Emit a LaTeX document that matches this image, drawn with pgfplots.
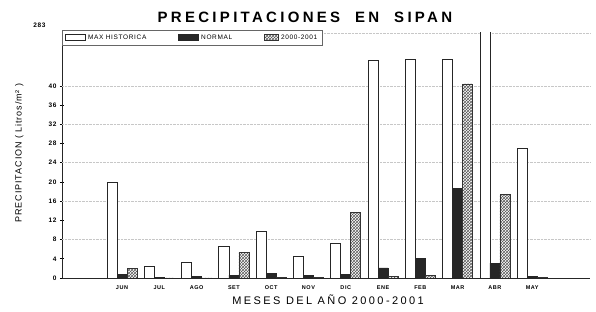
\documentclass[border=0pt]{standalone}
\usepackage{fontspec}
\setmainfont{Liberation Sans}
\newfontfamily\spacedfont[LetterSpace=22]{Liberation Sans}
\newfontfamily\widefont[LetterSpace=10]{Liberation Sans}
\usepackage{pgfplots}
\pgfplotsset{compat=1.18}
\usetikzlibrary{patterns}
\pgfplotsset{
  boxlegend/.style={legend image code/.code={\draw[##1] (0pt,-2.5pt) rectangle (20pt,3.5pt);}},
  shortlegend/.style={legend image code/.code={\draw[##1] (0pt,-2.5pt) rectangle (14pt,3.5pt);}},
}
\begin{document}
\begin{tikzpicture}
\path[use as bounding box] (-62pt,-34pt) rectangle (534pt,278pt);
\begin{axis}[
  at={(0,0)}, anchor=south west,
  scale only axis, width=528pt, height=245pt,
  xmin=-1.61, xmax=12.55, ymin=0, ymax=51,
  axis x line*=bottom, axis y line*=left,
  axis line style={-, line width=0.9pt, black!85},
  xtick={0,...,11},
  xticklabels={JUN,JUL,AGO,SET,OCT,NOV,DIC,ENE,FEB,MAR,ABR,MAY},
  x tick label style={font=\widefont\bfseries\fontsize{5.5}{6}\selectfont, yshift=-2pt},
  xtick style={draw=none},
  ytick={0,4,...,40},
  y tick label style={font=\widefont\bfseries\fontsize{6.5}{7}\selectfont},
  /pgf/number format/assume math mode=true,
  ytick style={line width=0.6pt, black},
  tick align=center, major tick length=4pt,
  extra y ticks={8,16,24,32,40,51},
  extra y tick labels={},
  extra y tick style={grid=major, major grid style={densely dotted, black!22, line width=0.5pt}, major tick length=0pt},
  extra x ticks={-0.5,0.5,...,11.5},
  extra x tick labels={},
  extra x tick style={tick align=outside, major tick length=3pt, tick style={draw=black!70, line width=0.6pt}},
  title={\spacedfont\bfseries\fontsize{15}{17}\selectfont PRECIPITACIONES\ \ EN\ \ SIPAN},
  title style={at={(axis description cs:0.46,1.04)}, anchor=center},
  xlabel={\spacedfont\fontsize{11}{12}\selectfont MESES\ DEL\ AÑO\ 2000-2001},
  xlabel style={at={(axis description cs:0.504,-0.09)}, anchor=center},
  ylabel={\widefont\fontsize{9}{10}\selectfont PRECIPITACION ( Litros/m² )},
  ylabel style={at={(axis description cs:-0.081,0.51)}, anchor=center, rotate=0},
  legend columns=3,
  legend style={at={(axis description cs:0,1.012)}, anchor=north west,
    draw=black!60, line width=0.5pt, font=\widefont\fontsize{6.5}{7.5}\selectfont,
    inner xsep=3pt, inner ysep=2.5pt,
    /tikz/every even column/.append style={column sep=30pt}},
]
\addplot[ybar, bar width=10pt, bar shift=-10pt, draw=black!85, fill=white, line width=0.8pt, boxlegend]
  coordinates {(0,20) (1,2.5) (2,3.3) (3,6.6) (4,9.7) (5,4.6) (6,7.3) (7,45.2) (8,45.5) (9,45.6) (10,283) (11,27)};
\addplot[ybar, bar width=10pt, bar shift=0pt, draw=black!85, fill=black!85, line width=0.8pt, boxlegend]
  coordinates {(0,0.7) (1,0.2) (2,0.3) (3,0.6) (4,0.9) (5,0.6) (6,0.7) (7,2.1) (8,4.1) (9,18.6) (10,3.1) (11,0.3)};
\addplot[ybar, bar width=10pt, bar shift=10pt, draw=black!80, pattern=crosshatch, pattern color=black!65, line width=0.8pt, shortlegend]
  coordinates {(0,2.0) (1,0) (2,0) (3,5.4) (4,0.1) (5,0.2) (6,13.7) (7,0.3) (8,0.5) (9,40.4) (10,17.4) (11,0.1)};
\legend{MAX HISTORICA, NORMAL, 2000-2001}
\end{axis}
\node[font=\widefont\bfseries\fontsize{6.5}{7}\selectfont, anchor=east] at (-13pt,253pt) {283};
\end{tikzpicture}
\end{document}
